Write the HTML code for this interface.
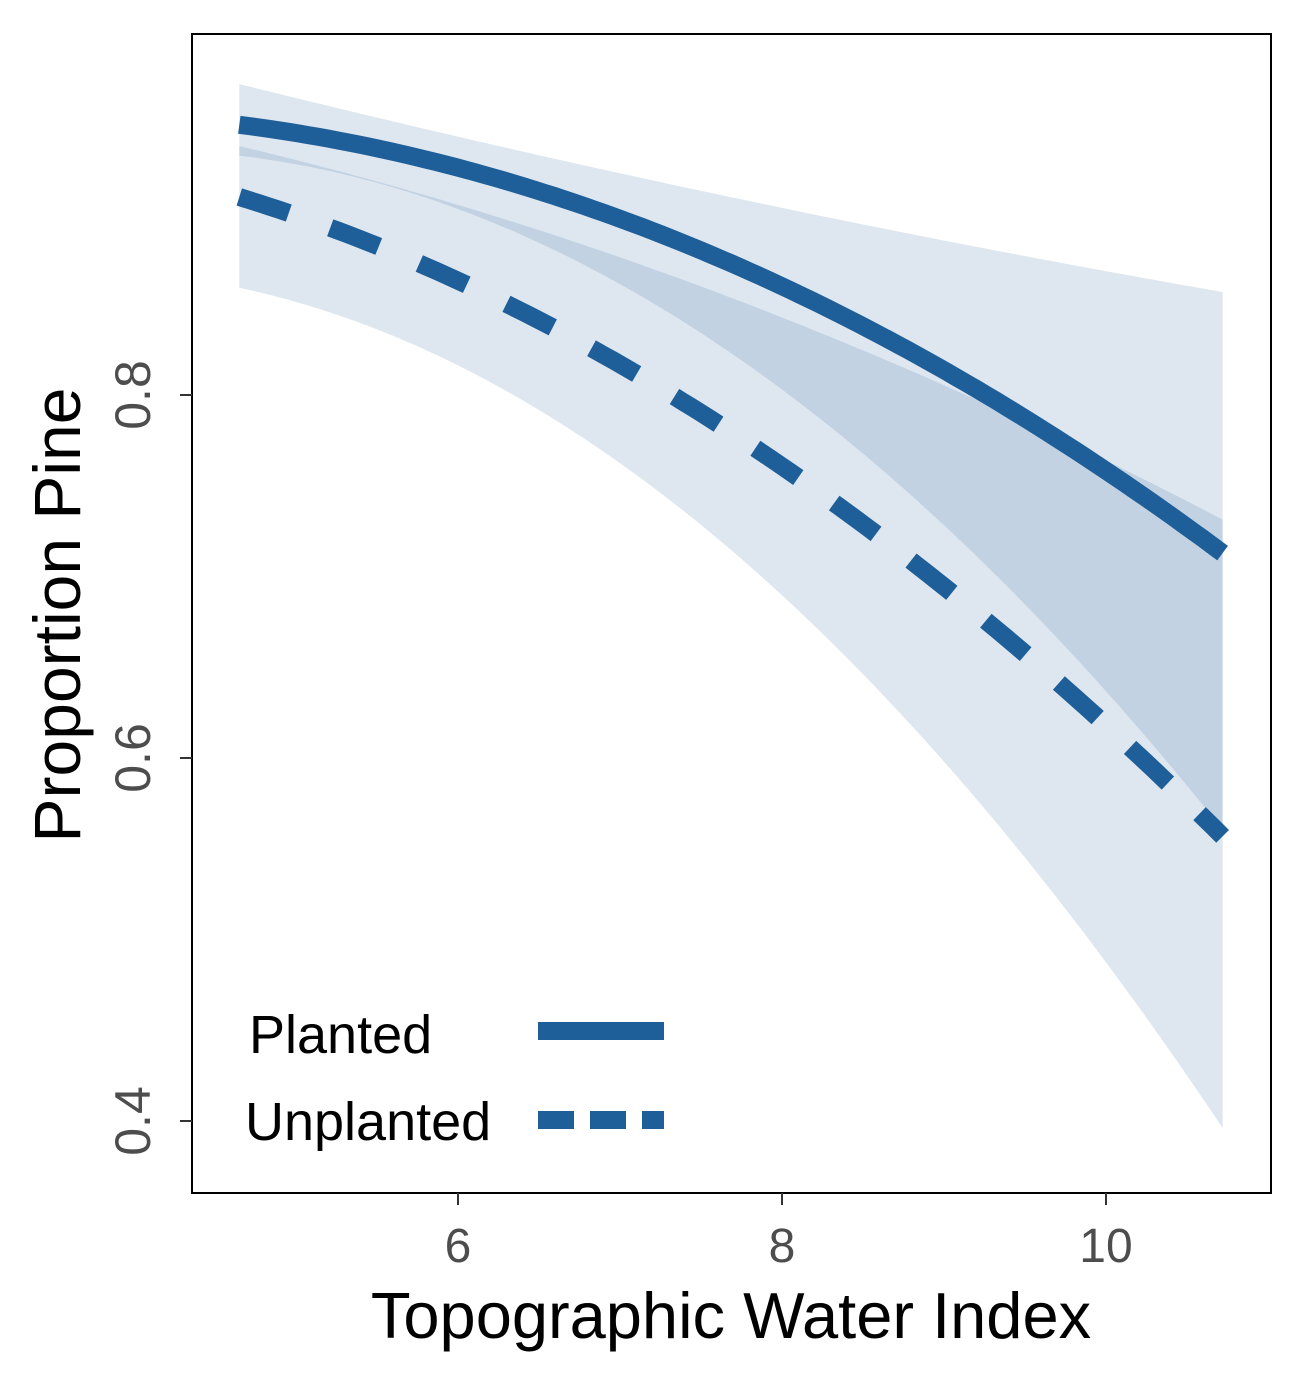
<!DOCTYPE html>
<html><head><meta charset="utf-8"><style>
body{margin:0;background:#fff}
svg text{font-family:"Liberation Sans",Arial,sans-serif}
</style></head><body>
<svg id="chart" width="1306" height="1386" viewBox="0 0 1306 1386">
<rect x="0" y="0" width="1306" height="1386" fill="#fff"/>
<g id="plot"></g>
<rect x="192" y="34" width="1079" height="1159" fill="none" stroke="#000" stroke-width="2"/>
<g id="axes"></g>
<text x="731" y="1338" font-size="65" text-anchor="middle" fill="#000">Topographic Water Index</text>
<text transform="translate(80,615) rotate(-90)" font-size="66" text-anchor="middle" fill="#000">Proportion Pine</text>
<g>
<text x="249" y="1053" font-size="54" fill="#000">Planted</text>
<line x1="538" y1="1031" x2="664" y2="1031" stroke="#1f5f99" stroke-width="18"/>
<text x="245" y="1140" font-size="54" fill="#000">Unplanted</text>
<line x1="538" y1="1120" x2="664" y2="1120" stroke="#1f5f99" stroke-width="18" stroke-dasharray="36,16"/>
</g>
</svg>
<script>
const xs = [4.65, 6, 7, 8, 9, 10, 10.72];
const plantedFit = [0.950, 0.925, 0.894, 0.860, 0.815, 0.763, 0.709];
const plantedUpper = [0.971, 0.943, 0.922, 0.903, 0.885, 0.868, 0.857];
const plantedLower = [0.930, 0.906, 0.860, 0.805, 0.725, 0.635, 0.563];
const unplantedFit = [0.909, 0.863, 0.817, 0.761, 0.694, 0.618, 0.557];
const unplantedUpper = [0.937, 0.905, 0.877, 0.840, 0.806, 0.766, 0.730];
const unplantedLower = [0.864, 0.810, 0.757, 0.690, 0.608, 0.490, 0.390];
const xTicks = [6, 8, 10];
const yTicks = [0.4, 0.6, 0.8];

const X = v => 458 + (v - 6) * 162;
const Y = v => 395 - (v - 0.8) * 1815;
const NS = "http://www.w3.org/2000/svg";
const plot = document.getElementById('plot');
const axes = document.getElementById('axes');

// least-squares quadratic through the read values, for a smooth curve
function fitQuad(vals) {
  const c = 7.7;
  const S = [[0,0,0],[0,0,0],[0,0,0]], b = [0,0,0];
  xs.forEach((x, i) => {
    const u = x - c, row = [1, u, u*u];
    for (let r = 0; r < 3; r++) { b[r] += row[r]*vals[i]; for (let k = 0; k < 3; k++) S[r][k] += row[r]*row[k]; }
  });
  // gaussian elimination
  for (let p = 0; p < 3; p++) {
    for (let r = p+1; r < 3; r++) {
      const f = S[r][p] / S[p][p];
      for (let k = p; k < 3; k++) S[r][k] -= f*S[p][k];
      b[r] -= f*b[p];
    }
  }
  const a = [0,0,0];
  for (let r = 2; r >= 0; r--) {
    let s = b[r];
    for (let k = r+1; k < 3; k++) s -= S[r][k]*a[k];
    a[r] = s / S[r][r];
  }
  return x => a[0] + a[1]*(x-c) + a[2]*(x-c)*(x-c);
}
function smooth(vals) {
  const f = fitQuad(vals), pts = [];
  const x0 = xs[0], x1 = xs[xs.length-1];
  for (let k = 0; k <= 100; k++) {
    const x = x0 + (x1 - x0) * k / 100;
    pts.push([X(x), Y(f(x))]);
  }
  return pts;
}
function ribbon(up, lo, name) {
  const a = smooth(up), b = smooth(lo).reverse();
  const p = document.createElementNS(NS, 'path');
  p.setAttribute('d', 'M' + a.concat(b).map(q => q[0].toFixed(1)+','+q[1].toFixed(1)).join('L') + 'Z');
  p.setAttribute('fill', '#1f5f99');
  p.setAttribute('fill-opacity', '0.15');
  
  
  plot.appendChild(p);
}
function line(vals, name, dash) {
  const p = document.createElementNS(NS, 'path');
  p.setAttribute('d', 'M' + smooth(vals).map(q => q[0].toFixed(1)+','+q[1].toFixed(1)).join('L'));
  p.setAttribute('fill', 'none');
  p.setAttribute('stroke', '#1f5f99');
  p.setAttribute('stroke-width', '18');
  if (dash) p.setAttribute('stroke-dasharray', '52,44');
  
  
  plot.appendChild(p);
}
ribbon(plantedUpper, plantedLower, 'planted-ribbon');
ribbon(unplantedUpper, unplantedLower, 'unplanted-ribbon');
line(plantedFit, 'planted-line', false);
line(unplantedFit, 'unplanted-line', true);

xTicks.forEach(t => {
  const l = document.createElementNS(NS, 'line');
  l.setAttribute('x1', X(t)); l.setAttribute('x2', X(t));
  l.setAttribute('y1', 1193); l.setAttribute('y2', 1205);
  l.setAttribute('stroke', '#333'); l.setAttribute('stroke-width', '2');
  
  
  axes.appendChild(l);
  const tx = document.createElementNS(NS, 'text');
  tx.setAttribute('x', X(t)); tx.setAttribute('y', 1262);
  tx.setAttribute('font-size', '48'); tx.setAttribute('fill', '#4d4d4d');
  tx.setAttribute('text-anchor', 'middle');
  tx.textContent = t;
  
  
  axes.appendChild(tx);
});
yTicks.forEach(t => {
  const l = document.createElementNS(NS, 'line');
  l.setAttribute('x1', 180); l.setAttribute('x2', 192);
  l.setAttribute('y1', Y(t)); l.setAttribute('y2', Y(t));
  l.setAttribute('stroke', '#333'); l.setAttribute('stroke-width', '2');
  
  
  axes.appendChild(l);
  const tx = document.createElementNS(NS, 'text');
  tx.setAttribute('transform', 'translate(150,' + Y(t) + ') rotate(-90)');
  tx.setAttribute('font-size', '50'); tx.setAttribute('fill', '#4d4d4d');
  tx.setAttribute('text-anchor', 'middle');
  tx.textContent = t.toFixed(1);
  
  
  axes.appendChild(tx);
});
</script>
</body></html>
